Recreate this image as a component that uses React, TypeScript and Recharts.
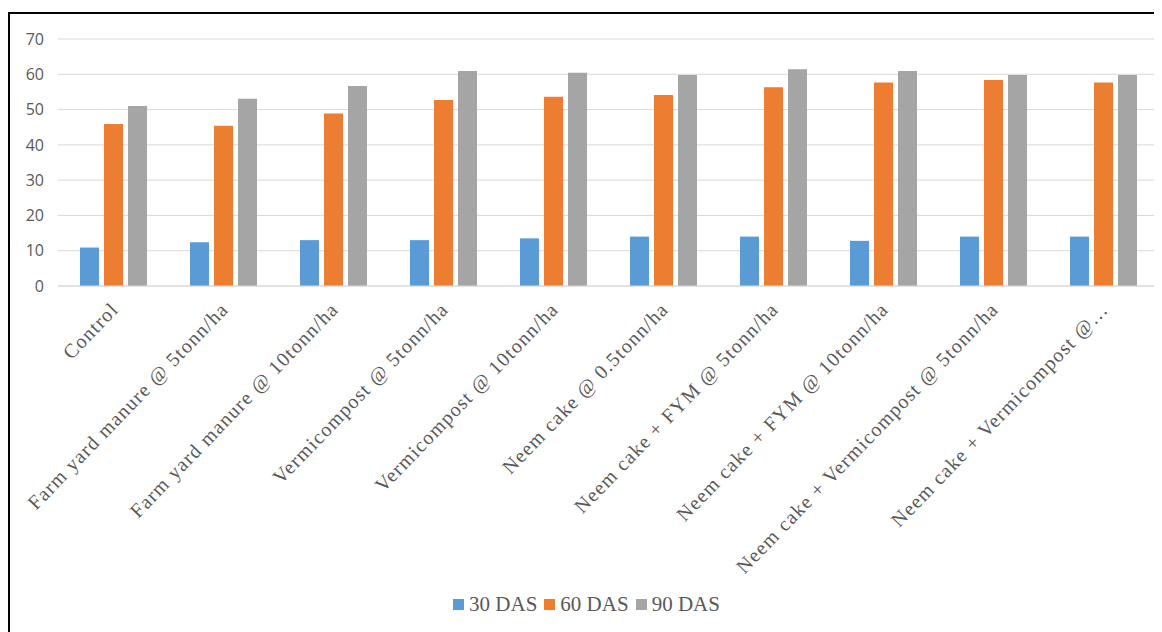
import React from 'react';
import { BarChart, Bar, XAxis, YAxis, CartesianGrid, Legend } from 'recharts';

const treatments = [
  'Control',
  'Farm yard manure @ 5tonn/ha',
  'Farm yard manure @ 10tonn/ha',
  'Vermicompost @ 5tonn/ha',
  'Vermicompost @ 10tonn/ha',
  'Neem cake @ 0.5tonn/ha',
  'Neem cake + FYM @ 5tonn/ha',
  'Neem cake + FYM @ 10tonn/ha',
  'Neem cake + Vermicompost @ 5tonn/ha',
  'Neem cake + Vermicompost @…',
];

const das30 = [10.9, 12.4, 13.0, 13.0, 13.5, 14.0, 14.0, 12.8, 14.0, 14.0];
const das60 = [45.9, 45.4, 48.9, 52.7, 53.6, 54.1, 56.3, 57.7, 58.4, 57.7];
const das90 = [51.0, 53.1, 56.7, 60.9, 60.4, 59.8, 61.4, 60.9, 59.8, 59.8];

const yTicks = [0, 10, 20, 30, 40, 50, 60, 70];

const data = treatments.map((name, i) => ({
  name,
  d30: das30[i],
  d60: das60[i],
  d90: das90[i],
}));

const serif = '"Liberation Serif", "Times New Roman", serif';

// slanted category labels, text ends just under the group
const SlantTick = (props: any) => {
  const { x, y, payload } = props;
  return (
    <g transform={`translate(${x + 3},${y + 13})`}>
      <text
        transform="rotate(-46)"
        textAnchor="end"
        dy={5}
        fontFamily={serif}
        fontSize={20}
        letterSpacing={1.2}
        fill="#595959"
      >
        {payload.value}
      </text>
    </g>
  );
};

const LegendBox = (props: any) => {
  const items = props.payload || [];
  return (
    <div
      style={{
        display: 'flex',
        justifyContent: 'center',
        alignItems: 'center',
        height: 24,
        fontFamily: serif,
        fontSize: 21,
        color: '#595959',
        paddingLeft: 12,
      }}
    >
      {items.map((it: any) => (
        <span key={it.value} style={{ display: 'inline-flex', alignItems: 'center', marginRight: 7 }}>
          <span style={{ width: 11, height: 11, background: it.color, display: 'inline-block', marginRight: 5 }} />
          {it.value}
        </span>
      ))}
    </div>
  );
};

const App: React.FC = () => {
  return (
    <div
      style={{
        marginTop: 4,
        width: 1152,
        height: 618,
        borderTop: '2px solid #000',
        borderLeft: '2px solid #000',
        background: '#fff',
      }}
    >
      <BarChart
        width={1152}
        height={618}
        data={data}
        margin={{ top: 25, right: 4, bottom: 16, left: 0 }}
        barSize={19}
        barGap={5}
      >
        <CartesianGrid vertical={false} stroke="#D9D9D9" />
        <XAxis
          dataKey="name"
          interval={0}
          height={306}
          tick={<SlantTick />}
          tickLine={false}
          axisLine={{ stroke: '#D9D9D9' }}
        />
        <YAxis
          width={48}
          domain={[0, 70]}
          ticks={yTicks}
          tickLine={false}
          axisLine={false}
          tickMargin={8}
          tick={{ fill: '#595959', fontSize: 16, fontFamily: '"Open Sans", sans-serif' }}
        />
        <Legend verticalAlign="bottom" content={<LegendBox />} />
        <Bar dataKey="d30" name="30 DAS" fill="#5B9BD5" isAnimationActive={false} />
        <Bar dataKey="d60" name="60 DAS" fill="#ED7D31" isAnimationActive={false} />
        <Bar dataKey="d90" name="90 DAS" fill="#A5A5A5" isAnimationActive={false} />
      </BarChart>
    </div>
  );
};

export default App;
